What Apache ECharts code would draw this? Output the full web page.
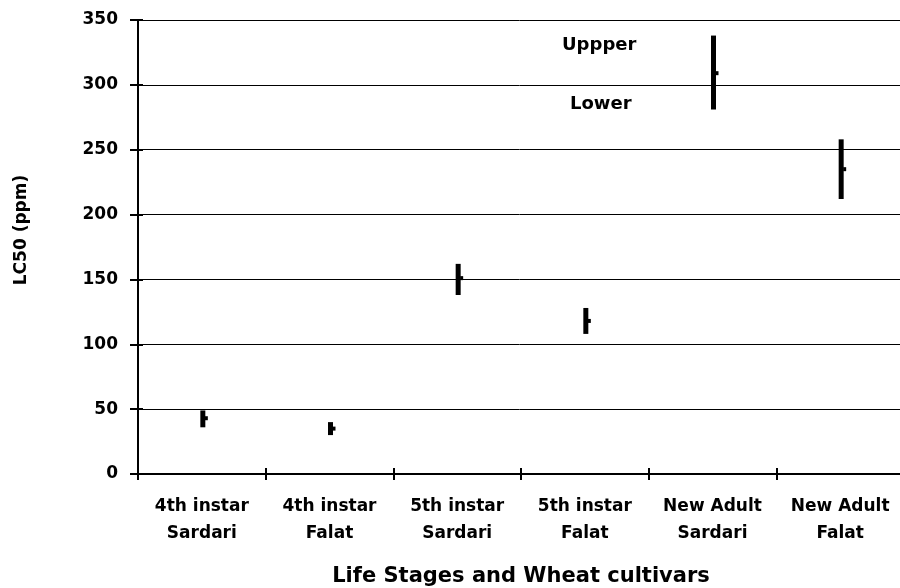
<!DOCTYPE html>
<html>
<head>
<meta charset="utf-8">
<script src="https://cdn.jsdelivr.net/npm/echarts@6/dist/echarts.min.js"></script>
<style>
  html, body { margin: 0; padding: 0; background: #fff; }
  #chart { width: 900px; height: 588px; }
</style>
</head>
<body>
<div id="chart"></div>
<script>
// categories and LC50 values with confidence limits (ppm)
var categories = ['4th instar\nSardari', '4th instar\nFalat', '5th instar\nSardari', '5th instar\nFalat', 'New Adult\nSardari', 'New Adult\nFalat'];
var lc50 = [43, 35, 151, 118, 309, 235];
var lower = [36, 30, 138, 108, 281, 212];
var upper = [49, 40, 162, 128, 338, 258];
var yTicks = [0, 50, 100, 150, 200, 250, 300, 350];

var font = '"DejaVu Sans", Arial, sans-serif';
var plotW = 766, plotH = 454;

var chart = echarts.init(document.getElementById('chart'));

// one error bar per category: vertical line lower..upper, short tick to the right at LC50
var barData = categories.map(function (c, i) {
  return [i, lower[i], upper[i], lc50[i]];
});

function renderBar(params, api) {
  var x = api.value(0);
  var lo = api.coord([x, api.value(1)]);
  var hi = api.coord([x, api.value(2)]);
  var mid = api.coord([x, api.value(3)]);
  var px = lo[0] + 1;
  return {
    type: 'group',
    children: [
      {
        type: 'rect',
        shape: { x: px - 2.5, y: hi[1], width: 5, height: lo[1] - hi[1] },
        style: { fill: '#000' }
      },
      {
        type: 'rect',
        shape: { x: px + 2, y: mid[1] - 2, width: 3, height: 4 },
        style: { fill: '#000' }
      }
    ]
  };
}

var tickStyle = { color: '#000', width: 2 };

chart.setOption({
  backgroundColor: '#fff',
  animation: false,
  grid: {
    left: 138, top: 20, width: plotW, height: plotH,
    containLabel: false, outerBoundsMode: 'none'
  },
  xAxis: [
    {
      type: 'category',
      data: categories,
      boundaryGap: true,
      axisLine: { lineStyle: { color: '#000', width: 2 } },
      axisTick: { show: true, length: 6, lineStyle: tickStyle },
      axisLabel: {
        color: '#000', fontFamily: font, fontWeight: 'bold', fontSize: 17,
        lineHeight: 27, margin: 19, interval: 0
      },
      splitLine: { show: false },
      name: 'Life Stages and Wheat cultivars',
      nameLocation: 'middle',
      nameGap: 92,
      nameTextStyle: { color: '#000', fontFamily: font, fontWeight: 'bold', fontSize: 21 }
    },
    {
      // second copy moved onto the bottom line so the ticks cross the axis
      type: 'category',
      data: categories,
      position: 'top',
      offset: -plotH,
      boundaryGap: true,
      axisLine: { show: false },
      axisTick: { show: true, length: 6, lineStyle: tickStyle },
      axisLabel: { show: false },
      splitLine: { show: false }
    }
  ],
  yAxis: [
    {
      type: 'value',
      min: 0,
      max: 350,
      interval: 50,
      axisLine: { show: true, lineStyle: { color: '#000', width: 2 } },
      axisTick: { show: true, length: 8, lineStyle: tickStyle },
      axisLabel: {
        color: '#000', fontFamily: font, fontWeight: 'bold', fontSize: 17, margin: 20,
        customValues: yTicks
      },
      splitLine: { show: true, lineStyle: { color: '#000', width: 1 } },
      name: 'LC50 (ppm)',
      nameLocation: 'middle',
      nameGap: 108,
      nameRotate: 90,
      nameTextStyle: {
        color: '#000', fontFamily: font, fontWeight: 'bold', fontSize: 17,
        padding: [0, 0, 0, 34]
      }
    },
    {
      type: 'value',
      min: 0,
      max: 350,
      interval: 50,
      position: 'right',
      offset: -plotW,
      axisLine: { show: false },
      axisTick: { show: true, length: 5, lineStyle: tickStyle },
      axisLabel: { show: false },
      splitLine: { show: false }
    }
  ],
  series: [
    {
      type: 'custom',
      renderItem: renderBar,
      data: barData,
      encode: { x: 0, y: [1, 2] },
      z: 5
    }
  ],
  graphic: [
    {
      type: 'text', left: 562, top: 36,
      style: { text: 'Uppper', fill: '#000', font: 'bold 18px ' + font }
    },
    {
      type: 'text', left: 570, top: 95,
      style: { text: 'Lower', fill: '#000', font: 'bold 18px ' + font }
    }
  ]
});
</script>
</body>
</html>
